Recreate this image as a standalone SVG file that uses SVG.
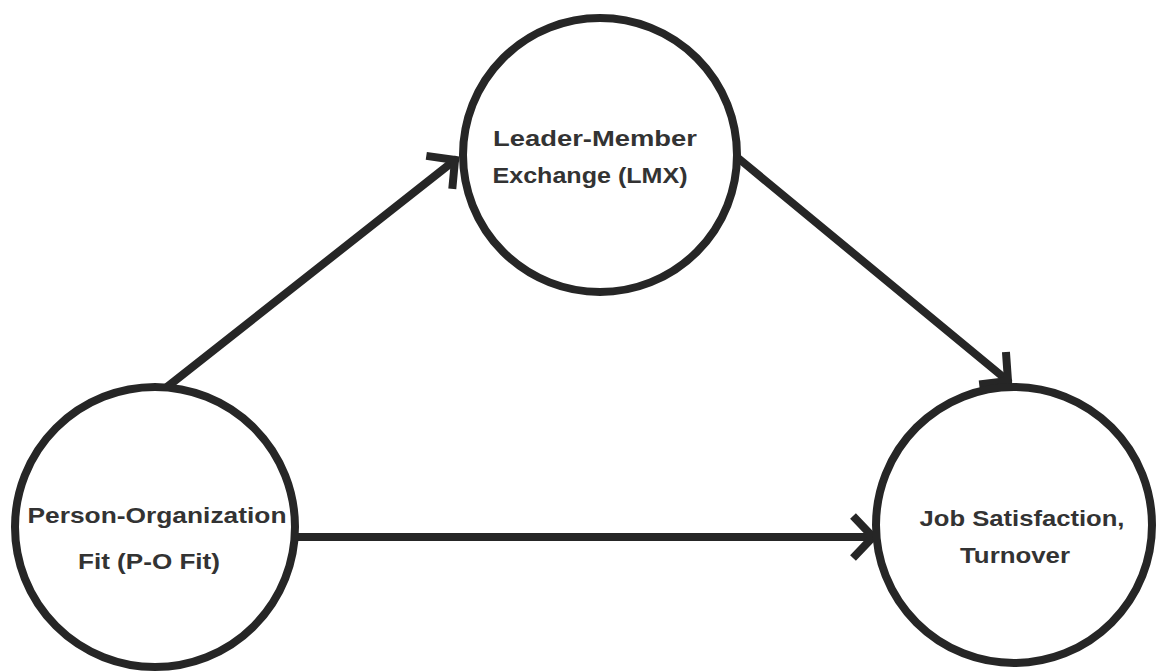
<svg xmlns="http://www.w3.org/2000/svg" width="1159" height="671" viewBox="0 0 1159 671">
  <style>
    .node circle { fill: #ffffff; stroke: #262626; stroke-width: 8; }
    .node text { font-family: "Liberation Sans", Arial, sans-serif; font-weight: bold; font-size: 22px; fill: #333333; text-anchor: middle; }
    .edge { stroke: #262626; stroke-width: 8; fill: none; stroke-linecap: round; }
  </style>
  <defs>
    <marker id="arrow" markerUnits="userSpaceOnUse" markerWidth="40" markerHeight="50" viewBox="-30 -25 40 50" refX="0" refY="0" orient="auto">
      <path d="M -20 -21 L 0 0 L -20 21" fill="none" stroke="#262626" stroke-width="8" stroke-linecap="butt" stroke-linejoin="miter"/>
    </marker>
  </defs>
  <rect width="1159" height="671" fill="#ffffff"/>
  <g id="connectors">
    <line class="edge" x1="167" y1="387" x2="455" y2="160" marker-end="url(#arrow)"/>
    <line class="edge" x1="738" y1="158" x2="1008" y2="381" marker-end="url(#arrow)"/>
    <line class="edge" x1="295" y1="537" x2="873" y2="537" marker-end="url(#arrow)"/>
  </g>
  <g id="node-pofit" class="node">
    <circle cx="155" cy="527" r="140" fill="none"/>
    <text x="157" y="523" textLength="259" lengthAdjust="spacingAndGlyphs">Person-Organization</text>
    <text x="149" y="569" textLength="142" lengthAdjust="spacingAndGlyphs">Fit (P-O Fit)</text>
  </g>
  <g id="node-lmx" class="node">
    <circle cx="600" cy="155" r="137"/>
    <text x="595" y="146" textLength="204" lengthAdjust="spacingAndGlyphs">Leader-Member</text>
    <text x="590" y="183" textLength="195" lengthAdjust="spacingAndGlyphs">Exchange (LMX)</text>
  </g>
  <g id="node-outcomes" class="node">
    <circle cx="1014" cy="525" r="138"/>
    <text x="1022" y="526" textLength="205" lengthAdjust="spacingAndGlyphs">Job Satisfaction,</text>
    <text x="1015" y="563" textLength="110" lengthAdjust="spacingAndGlyphs">Turnover</text>
  </g>
</svg>
